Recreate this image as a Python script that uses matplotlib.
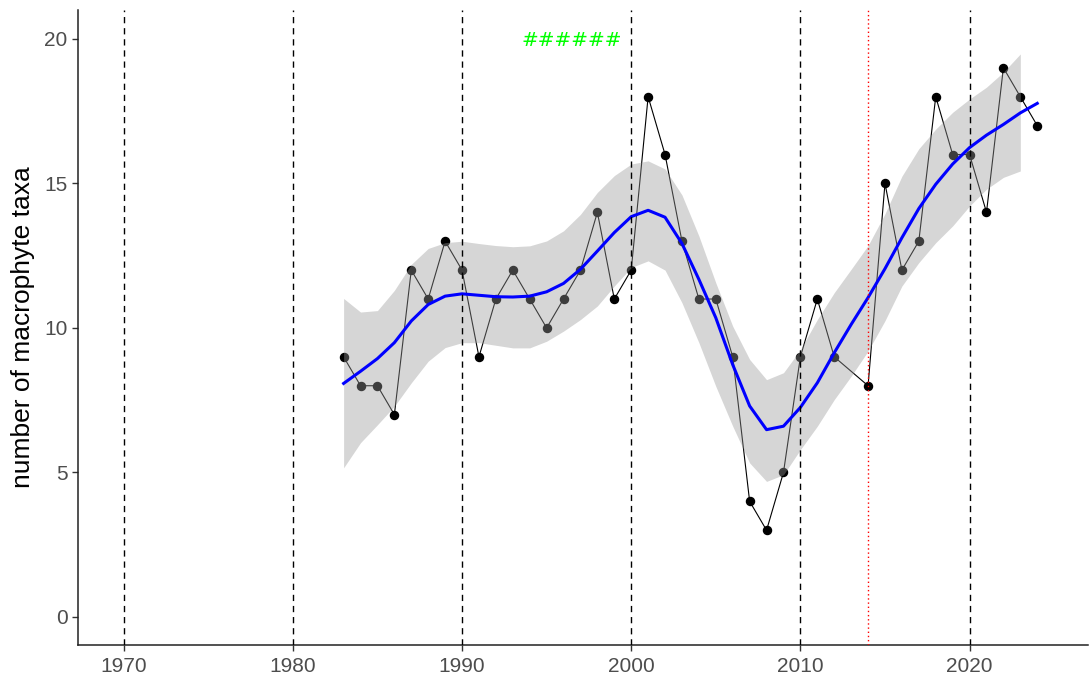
import matplotlib
matplotlib.use("Agg")
import matplotlib.pyplot as plt

plt.rcParams["font.family"] = ["Liberation Sans", "DejaVu Sans"]

# Observed number of macrophyte taxa per survey year
years = [1983, 1984, 1985, 1986, 1987, 1988, 1989, 1990, 1991, 1992,
         1993, 1994, 1995, 1996, 1997, 1998, 1999, 2000, 2001, 2002,
         2003, 2004, 2005, 2006, 2007, 2008, 2009, 2010, 2011, 2012,
         2014, 2015, 2016, 2017, 2018, 2019, 2020, 2021, 2022, 2023, 2024]
taxa = [9, 8, 8, 7, 12, 11, 13, 12, 9, 11,
        12, 11, 10, 11, 12, 14, 11, 12, 18, 16,
        13, 11, 11, 9, 4, 3, 5, 9, 11, 9,
        8, 15, 12, 13, 18, 16, 16, 14, 19, 18, 17]

# Smoothed trend and its confidence band
trend_years = list(range(1983, 2025))
trend = [8.08, 8.50, 8.94, 9.49, 10.24, 10.81, 11.10, 11.18, 11.13, 11.08,
         11.07, 11.10, 11.25, 11.54, 12.03, 12.66, 13.30, 13.85, 14.07, 13.83,
         12.92, 11.68, 10.35, 8.73, 7.30, 6.48, 6.60, 7.25, 8.10, 9.14,
         10.12, 11.05, 12.05, 13.12, 14.13, 14.97, 15.67, 16.24, 16.67, 17.04,
         17.44, 17.77]
band_years = list(range(1983, 2024))
band_upper = [11.02, 10.55, 10.60, 11.30, 12.20, 12.75, 12.95, 13.00, 12.92, 12.85,
              12.81, 12.84, 13.01, 13.36, 13.93, 14.69, 15.27, 15.67, 15.78, 15.50,
              14.60, 13.18, 11.56, 10.06, 8.91, 8.21, 8.45, 9.25, 10.29, 11.22,
              12.03, 12.85, 13.95, 15.25, 16.20, 16.88, 17.46, 17.92, 18.33, 18.85,
              19.48]
band_lower = [5.16, 6.03, 6.65, 7.29, 8.10, 8.85, 9.32, 9.49, 9.49, 9.40,
              9.31, 9.31, 9.54, 9.89, 10.29, 10.76, 11.45, 12.09, 12.32, 12.00,
              10.87, 9.49, 7.98, 6.60, 5.33, 4.69, 4.92, 5.79, 6.60, 7.52,
              8.33, 9.20, 10.25, 11.45, 12.26, 12.95, 13.53, 14.22, 14.80, 15.21,
              15.43]

decades = [1970, 1980, 1990, 2000, 2010, 2020]
marker_year = 2014
y_ticks = [0, 5, 10, 15, 20]

fig = plt.figure(figsize=(10.9, 6.82), dpi=100)
ax = fig.add_axes([78 / 1090, 37 / 682, 1010 / 1090, 635 / 682])

ax.plot(years, taxa, color="black", lw=0.8, zorder=2)
ax.plot(years, taxa, "o", color="black", ms=5.8, zorder=2)

ax.fill_between(band_years, band_lower, band_upper, color="#999999",
                alpha=0.4, lw=0, zorder=3)
ax.plot(trend_years, trend, color="#0000FF", lw=2.2, zorder=4)

for d in decades:
    ax.axvline(d, color="black", lw=1.0, linestyle=(0, (4.5, 3.5)), zorder=5)
ax.axvline(marker_year, color="red", lw=1.0, linestyle=(0, (1, 2)), zorder=5)

ax.text(1996.5, 19.93, "######", color="#00FF00", fontsize=14.5,
        family="DejaVu Sans", ha="center", va="center", zorder=6)

ax.set_xlim(1967.3, 2027.0)
ax.set_ylim(-0.97, 21.0)
ax.set_xticks(decades)
ax.set_yticks(y_ticks)
ax.tick_params(axis="both", colors="#333333", labelcolor="#4D4D4D",
               labelsize=15, length=4.5, width=1.0)
ax.tick_params(axis="x", pad=4)
ax.tick_params(axis="y", pad=3)

for side in ("top", "right"):
    ax.spines[side].set_visible(False)
for side in ("left", "bottom"):
    ax.spines[side].set_color("#222222")
    ax.spines[side].set_linewidth(1.1)

ax.set_ylabel("number of macrophyte taxa", fontsize=19, color="black",
              va="center", ha="center")
ax.yaxis.set_label_coords(-0.0545, 0.5)

fig.savefig("out.png", dpi=100)
